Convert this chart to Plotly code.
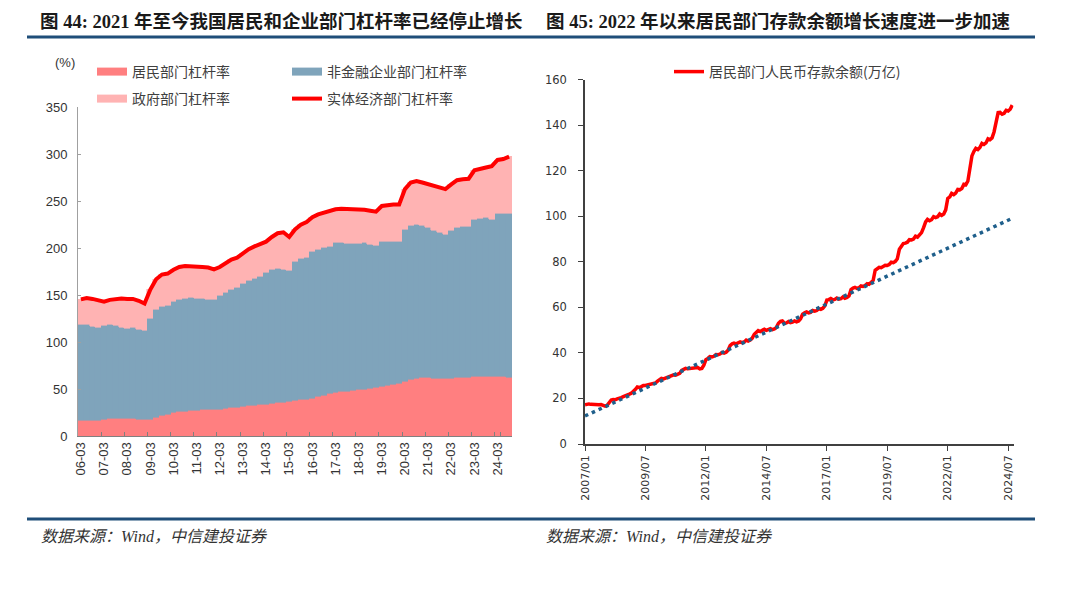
import plotly.graph_objects as go
import pandas as pd

# ---------------- Left chart data (quarterly, %) ----------------
years = list(range(2006, 2025))
quarter_months = ["03", "06", "09", "12"]
quarters = [f"{y % 100:02d}-{m}" for y in years for m in quarter_months][:75]
year_ticks = [f"{y % 100:02d}-03" for y in years]

household = [17, 17, 17, 17, 18, 18.5, 19, 19, 19, 18.5, 18, 17.5,
             18, 20, 22, 23, 25, 26, 26.5, 27, 27.5, 28, 28, 28,
             28.5, 29, 30, 31, 31.5, 32.5, 33, 33.5, 34, 35, 35.5, 36,
             36.5, 37.5, 38.5, 39, 40.5, 42, 43.5, 45, 46, 47.5, 48, 49,
             49.5, 50, 51, 52, 53, 54, 55, 56, 58, 60, 61.5, 62,
             62, 61.5, 61.5, 61.5, 61.5, 62, 62, 62.5, 63, 63.5, 63.5, 63,
             63, 63, 62.5]
corporate = [102, 101.5, 100, 99, 100, 100.5, 99, 97, 96, 97, 96, 95,
             107, 115, 116, 116, 118, 119.5, 120.5, 120.5, 119.5, 119, 118, 117.5,
             121.5, 124, 126, 127, 131, 133.5, 135, 136.5, 140, 142, 142.5, 141,
             139.5, 148.5, 150.5, 151, 156.5, 157, 157, 157, 160, 158.5, 157.5, 156,
             155.5, 156, 153.5, 150.5, 154, 153.5, 152.5, 151.5, 162, 164.5, 164, 162,
             160, 157.5, 155, 153.5, 158, 160, 161.5, 161, 167.5, 168, 169, 168,
             174.5, 174.5, 174.5]
government = [26.5, 28.5, 29, 28.5, 25, 26, 28, 30.5, 31, 30.5, 30, 28.5,
              31, 32, 34, 34, 34, 34.5, 34, 33.5, 33, 33, 33.5, 32,
              30, 31, 32, 32, 32, 33, 34, 34, 33, 35, 38, 40,
              36, 34, 36, 38, 36, 37, 37.5, 37, 35.5, 36, 36.5, 36,
              36, 35, 35.5, 36.5, 38, 38.5, 39, 39, 43, 45.5, 46, 46,
              46, 47, 48.5, 48, 48.5, 50.5, 50, 50.5, 52.5, 52.5, 53.5, 56.5,
              56.5, 57.5, 60.5]
total = [145.5, 147, 146, 144.5, 143, 145, 146, 146.5, 146, 146, 144, 141,
         156, 167, 172, 173, 177, 180, 181, 181, 180, 180, 179.5, 177.5,
         180, 184, 188, 190, 194.5, 199, 202, 204, 207, 212, 216, 217,
         212, 220, 225, 228, 233, 236, 238, 239, 241.5, 242, 242, 241,
         241, 241, 240, 239, 245, 246, 246.5, 246.5, 263, 270, 271.5, 270,
         268, 266, 265, 263, 268, 272.5, 273.5, 274, 283, 284, 286, 287.5,
         294, 295, 297.5]

# ---------------- Right chart data (monthly, 万亿) ----------------
dep_2007 = [17.2, 17.6, 17.6, 17.4, 17.3, 17.4, 17.3, 17.2, 17.3, 16.8, 16.6, 17.0]
dep_2008 = [18.4, 19.3, 19.5, 19.4, 19.8, 20.3, 20.4, 20.8, 21.3, 21.5, 21.9, 22.3]
dep_2009 = [23.0, 24.0, 25.0, 24.8, 25.2, 25.7, 25.7, 25.9, 26.3, 26.2, 26.5, 26.8]
dep_2010 = [27.6, 28.4, 28.8, 28.6, 28.9, 29.4, 29.4, 29.7, 30.4, 30.2, 30.6, 31.0]
dep_2011 = [32.3, 32.8, 33.2, 33.0, 33.1, 33.4, 33.2, 33.3, 33.6, 33.0, 33.2, 34.6]
dep_2012 = [37.0, 37.6, 38.4, 38.2, 38.5, 39.3, 39.2, 39.5, 40.2, 39.9, 40.3, 41.2]
dep_2013 = [43.2, 44.0, 44.3, 44.0, 44.2, 44.8, 44.5, 44.8, 45.6, 45.2, 45.6, 46.5]
dep_2014 = [48.2, 49.3, 49.8, 49.4, 49.8, 50.4, 49.9, 50.1, 50.6, 50.2, 50.5, 51.2]
dep_2015 = [53.0, 53.8, 54.0, 53.0, 53.2, 53.8, 53.3, 53.5, 54.0, 53.6, 54.0, 55.0]
dep_2016 = [57.0, 57.6, 58.0, 57.6, 57.8, 58.6, 58.3, 58.6, 59.4, 59.1, 59.6, 60.6]
dep_2017 = [63.2, 63.4, 63.9, 63.3, 63.5, 64.1, 63.6, 63.8, 64.6, 64.0, 64.3, 65.0]
dep_2018 = [67.8, 68.5, 68.8, 68.3, 68.6, 69.4, 69.2, 69.6, 70.4, 70.1, 70.8, 71.8]
dep_2019 = [76.3, 77.0, 77.6, 77.4, 77.8, 78.5, 78.4, 78.8, 79.8, 79.6, 80.2, 81.3]
dep_2020 = [85.5, 87.0, 88.0, 88.2, 88.6, 89.7, 89.6, 90.0, 91.2, 90.8, 91.6, 92.8]
dep_2021 = [95.0, 97.5, 98.6, 98.0, 98.5, 99.8, 99.4, 99.8, 101.0, 100.4, 101.0, 102.8]
dep_2022 = [107.8, 108.5, 110.0, 109.5, 110.2, 111.8, 111.6, 112.2, 114.0, 113.8, 115.5, 120.5]
dep_2023 = [126.5, 128.5, 129.8, 129.3, 130.2, 132.0, 131.5, 132.2, 134.0, 133.6, 134.4, 137.0]
dep_2024 = [142.0, 145.5, 145.6, 144.8, 145.2, 146.5, 146.2, 147.0, 148.8]
deposits = (dep_2007 + dep_2008 + dep_2009 + dep_2010 + dep_2011 + dep_2012 + dep_2013
            + dep_2014 + dep_2015 + dep_2016 + dep_2017 + dep_2018 + dep_2019 + dep_2020
            + dep_2021 + dep_2022 + dep_2023 + dep_2024)
months = pd.date_range("2007-01-01", periods=len(deposits), freq="MS")

trend_dates = ["2007-01-01", "2024-09-01"]
trend_vals = [12.3, 99.1]

date_ticks = ["2007-01-01", "2009-07-01", "2012-01-01", "2014-07-01",
              "2017-01-01", "2019-07-01", "2022-01-01", "2024-07-01"]
date_tick_text = ["2007/01", "2009/07", "2012/01", "2014/07",
                  "2017/01", "2019/07", "2022/01", "2024/07"]

# ---------------- styling ----------------
# page body has an 8px margin, so the figure is slightly smaller and
# all target pixel positions are measured from the window corner.
OFF = 8
W, H = 1080 - OFF, 591 - OFF
def px(x):
    return (x - OFF) / W
def py(y):
    return 1 - (y - OFF) / H

C_HH = "#FF7F80"
C_CORP = "#7FA4BB"
C_GOV = "#FFB3B3"
C_RED = "#FF0000"
C_TREND = "#1F5F8B"
C_BAR = "#1F4E79"

SANS = "Liberation Sans, Noto Sans CJK SC, sans-serif"
CJK = "Noto Sans CJK SC, sans-serif"

fig = go.Figure()

for vals, col in [(household, C_HH), (corporate, C_CORP), (government, C_GOV)]:
    fig.add_trace(go.Bar(x=quarters, y=vals, marker=dict(color=col, line=dict(color=col, width=0.6)),
                         showlegend=False, xaxis="x", yaxis="y", hoverinfo="skip"))

fig.add_trace(go.Scatter(x=quarters, y=total, mode="lines", name="实体经济部门杠杆率",
                         line=dict(color=C_RED, width=4), xaxis="x", yaxis="y", legend="legend4"))

# legend swatches for the stacked areas
fig.add_trace(go.Scatter(x=[None], y=[None], mode="lines", name="居民部门杠杆率",
                         line=dict(color=C_HH, width=8), xaxis="x", yaxis="y", legend="legend"))
fig.add_trace(go.Scatter(x=[None], y=[None], mode="lines", name="非金融企业部门杠杆率",
                         line=dict(color=C_CORP, width=8), xaxis="x", yaxis="y", legend="legend2"))
fig.add_trace(go.Scatter(x=[None], y=[None], mode="lines", name="政府部门杠杆率",
                         line=dict(color=C_GOV, width=8), xaxis="x", yaxis="y", legend="legend3"))

fig.add_trace(go.Scatter(x=months, y=deposits, mode="lines", name="居民部门人民币存款余额(万亿)",
                         line=dict(color=C_RED, width=3.5), xaxis="x2", yaxis="y2", legend="legend5"))
fig.add_trace(go.Scatter(x=trend_dates, y=trend_vals, mode="lines", showlegend=False,
                         line=dict(color=C_TREND, width=3.5, dash="3.5px,4px"), xaxis="x2", yaxis="y2"))

leg_common = dict(orientation="h", xanchor="left", yanchor="middle", bgcolor="rgba(0,0,0,0)",
                  font=dict(family=CJK, size=14, color="#404040"), itemwidth=30)

fig.update_layout(
    width=W, height=H, margin=dict(l=0, r=0, t=0, b=0),
    paper_bgcolor="white", plot_bgcolor="white",
    barmode="stack", bargap=0,
    xaxis=dict(type="category", domain=[px(78), px(512)], anchor="y", range=[-0.5, 74.5],
               tickmode="array", tickvals=year_ticks, tickangle=-90, tickson="boundaries",
               ticks="inside", ticklen=4, tickcolor="#808080", showline=True, linecolor="#808080",
               showgrid=False, tickfont=dict(family=SANS, size=13, color="#333333"), automargin=False),
    yaxis=dict(domain=[py(436), py(107.4)], anchor="x", range=[0, 350], dtick=50,
               ticks="inside", ticklen=3, tickcolor="#a0a0a0", showline=True, linecolor="#a0a0a0",
               showgrid=False, zeroline=False, ticklabelstandoff=7,
               tickfont=dict(family=SANS, size=13, color="#333333"), automargin=False),
    xaxis2=dict(type="date", domain=[px(585), px(1013.5)], anchor="y2",
                range=["2007-01-01", "2024-09-20"], tickmode="array", tickvals=date_ticks,
                ticktext=date_tick_text, tickangle=-90, ticks="outside", ticklen=5,
                tickcolor="#404040", showline=True, linecolor="#404040", linewidth=1.5,
                showgrid=False, tickfont=dict(family="DejaVu Sans, sans-serif", size=11, color="#333333"),
                automargin=False),
    yaxis2=dict(domain=[py(444), py(79.6)], anchor="x2", range=[0, 160], dtick=20,
                ticks="outside", ticklen=5, tickcolor="#404040", showline=True, linecolor="#404040",
                linewidth=1.5, showgrid=False, zeroline=False, ticklabelstandoff=9,
                tickfont=dict(family="DejaVu Sans, sans-serif", size=11.5, color="#333333"),
                automargin=False),
    legend=dict(x=px(92), y=py(72), **leg_common),
    legend2=dict(x=px(287), y=py(72), **leg_common),
    legend3=dict(x=px(92), y=py(99), **leg_common),
    legend4=dict(x=px(287), y=py(99), **leg_common),
    legend5=dict(x=px(669), y=py(72), **leg_common),
    showlegend=True,
)

TITLE_FONT = dict(family="Liberation Serif, Noto Sans CJK SC, serif", size=18.5, color="#1a1a1a")
SRC_FONT = dict(family="Liberation Serif, Noto Sans CJK SC, serif", size=16, color="#333333", style="italic")

annotations = [
    dict(text="<b>图 44: 2021 年至今我国居民和企业部门杠杆率已经停止增长</b>", x=px(38), y=py(21),
         font=TITLE_FONT),
    dict(text="<b>图 45: 2022 年以来居民部门存款余额增长速度进一步加速</b>", x=px(544), y=py(21),
         font=TITLE_FONT),
    dict(text="数据来源：Wind，中信建投证券", x=px(39), y=py(536), font=SRC_FONT),
    dict(text="数据来源：Wind，中信建投证券", x=px(544), y=py(536), font=SRC_FONT),
]
for a in annotations:
    fig.add_annotation(xref="paper", yref="paper", xanchor="left", yanchor="middle",
                       showarrow=False, **a)
fig.add_annotation(text="(%)", xref="paper", yref="paper", x=px(65), y=py(62), xanchor="center",
                   yanchor="middle", showarrow=False,
                   font=dict(family=SANS, size=13, color="#333333"))

for yline in [37, 519]:
    fig.add_shape(type="line", xref="paper", yref="paper", x0=px(27), x1=px(1035),
                  y0=py(yline), y1=py(yline), line=dict(color=C_BAR, width=3))

fig.write_html("out.html")
